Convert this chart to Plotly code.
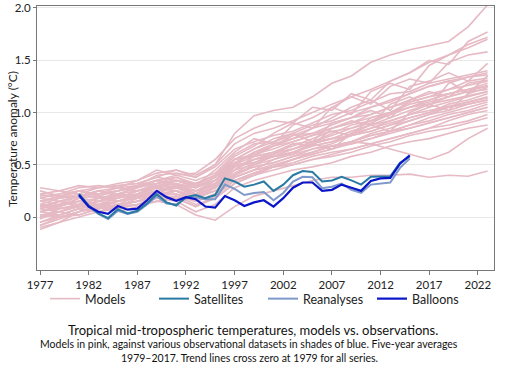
import plotly.graph_objects as go

model_years = [1977, 1979, 1981, 1983, 1985, 1987, 1989, 1991, 1993, 1995, 1997, 1999,
               2001, 2003, 2005, 2007, 2009, 2011, 2013, 2015, 2017, 2019, 2021, 2023]

models = [
    [0.10,0.15,0.20,0.22,0.25,0.30,0.40,0.42,0.38,0.50,0.80,0.97,1.02,1.05,1.15,1.28,1.35,1.48,1.55,1.60,1.64,1.68,1.82,2.03],
    [0.20,0.22,0.28,0.30,0.28,0.35,0.45,0.40,0.42,0.55,0.75,0.85,0.92,0.90,1.05,1.02,1.18,1.12,1.30,1.38,1.50,1.46,1.68,1.77],
    [0.05,0.10,0.18,0.15,0.22,0.28,0.35,0.38,0.30,0.45,0.62,0.75,0.70,0.88,0.95,1.05,0.98,1.20,1.28,1.22,1.45,1.55,1.65,1.72],
    [0.15,0.12,0.20,0.25,0.20,0.30,0.32,0.35,0.32,0.40,0.58,0.68,0.80,0.90,0.85,1.05,1.15,1.08,1.25,1.32,1.28,1.48,1.55,1.58],
    [-0.05,0.02,0.08,0.12,0.10,0.18,0.25,0.28,0.22,0.35,0.50,0.62,0.70,0.75,0.85,0.95,1.05,1.12,1.02,1.25,1.30,1.38,1.30,1.47],
    [0.22,0.25,0.30,0.28,0.32,0.35,0.42,0.45,0.38,0.48,0.65,0.72,0.78,0.82,0.90,0.98,1.02,1.10,1.18,1.20,1.28,1.32,1.36,1.40],
    [0.00,0.05,0.10,0.08,0.15,0.20,0.22,0.30,0.25,0.30,0.48,0.55,0.62,0.70,0.68,0.85,0.92,0.88,1.08,1.15,1.05,1.28,1.34,1.38],
    [0.10,0.08,0.12,0.18,0.20,0.22,0.30,0.32,0.28,0.38,0.55,0.60,0.68,0.78,0.80,0.88,0.95,1.05,1.10,1.18,1.25,1.30,1.18,1.35],
    [-0.10,-0.05,0.05,0.10,0.08,0.12,0.20,0.25,0.18,0.28,0.42,0.52,0.58,0.65,0.72,0.80,0.88,0.92,1.00,1.10,1.15,1.22,1.30,1.33],
    [0.28,0.25,0.22,0.28,0.30,0.32,0.38,0.35,0.30,0.40,0.55,0.65,0.75,0.80,0.72,0.90,0.95,1.02,0.95,1.12,1.20,1.15,1.28,1.31],
    [0.05,0.12,0.15,0.12,0.18,0.25,0.28,0.25,0.20,0.30,0.45,0.58,0.62,0.68,0.75,0.82,0.78,0.95,1.00,1.05,1.12,1.18,1.22,1.28],
    [0.12,0.10,0.18,0.20,0.15,0.22,0.30,0.35,0.30,0.35,0.50,0.52,0.60,0.70,0.72,0.78,0.85,0.90,0.98,1.05,1.08,1.15,1.20,1.26],
    [-0.08,0.00,0.02,0.08,0.12,0.15,0.18,0.20,0.15,0.22,0.38,0.45,0.55,0.60,0.70,0.65,0.80,0.88,0.82,1.00,1.08,1.02,1.18,1.24],
    [0.18,0.15,0.20,0.22,0.25,0.28,0.35,0.30,0.28,0.35,0.52,0.60,0.65,0.72,0.78,0.82,0.85,0.92,0.98,1.05,1.10,1.15,1.20,1.22],
    [0.02,0.05,0.12,0.15,0.12,0.20,0.25,0.28,0.25,0.32,0.45,0.50,0.55,0.62,0.68,0.72,0.80,0.85,0.92,0.98,1.05,1.10,1.15,1.20],
    [0.08,0.15,0.10,0.15,0.20,0.18,0.25,0.30,0.22,0.28,0.40,0.48,0.52,0.58,0.65,0.70,0.78,0.82,0.88,0.95,1.00,1.08,1.12,1.18],
    [-0.12,-0.05,0.00,0.05,0.08,0.12,0.15,0.18,0.10,0.20,0.35,0.42,0.48,0.55,0.62,0.68,0.72,0.80,0.85,0.92,0.98,1.05,1.10,1.15],
    [0.15,0.20,0.18,0.25,0.22,0.28,0.32,0.38,0.32,0.40,0.55,0.58,0.62,0.65,0.70,0.75,0.78,0.85,0.90,0.95,1.00,1.05,1.08,1.12],
    [0.00,0.02,0.08,0.05,0.12,0.15,0.22,0.22,0.18,0.25,0.38,0.45,0.50,0.55,0.60,0.65,0.72,0.78,0.82,0.88,0.95,1.00,1.05,1.10],
    [0.10,0.12,0.15,0.10,0.15,0.20,0.25,0.28,0.20,0.30,0.42,0.48,0.52,0.58,0.62,0.68,0.70,0.75,0.82,0.88,0.92,0.98,1.02,1.08],
    [0.25,0.20,0.25,0.22,0.28,0.30,0.35,0.32,0.25,0.32,0.48,0.52,0.58,0.60,0.65,0.68,0.72,0.78,0.82,0.85,0.90,0.95,1.00,1.05],
    [-0.05,0.00,0.05,0.10,0.05,0.10,0.15,0.20,0.12,0.18,0.32,0.40,0.45,0.50,0.55,0.60,0.65,0.70,0.75,0.80,0.85,0.92,0.98,1.02],
    [0.05,0.08,0.10,0.12,0.15,0.18,0.20,0.22,0.15,0.22,0.35,0.42,0.48,0.52,0.58,0.62,0.65,0.70,0.75,0.80,0.85,0.88,0.92,0.98],
    [0.12,0.10,0.15,0.18,0.18,0.22,0.28,0.25,0.18,0.25,0.38,0.45,0.48,0.50,0.55,0.58,0.62,0.68,0.72,0.78,0.82,0.85,0.90,0.95],
    [-0.02,0.05,0.02,0.08,0.10,0.12,0.18,0.15,0.05,0.12,0.28,0.35,0.40,0.45,0.48,0.52,0.58,0.62,0.68,0.72,0.75,0.80,0.85,0.88],
    [0.08,0.12,0.15,0.12,0.15,0.18,0.22,0.25,0.15,0.22,0.35,0.40,0.48,0.55,0.62,0.68,0.72,0.70,0.65,0.60,0.55,0.62,0.75,0.85],
    [0.05,0.02,0.08,0.05,0.10,0.12,0.15,0.12,0.02,-0.03,0.10,0.20,0.25,0.30,0.35,0.38,0.38,0.40,0.40,0.41,0.38,0.40,0.39,0.44],
    [0.18,0.22,0.25,0.20,0.25,0.30,0.35,0.40,0.35,0.42,0.60,0.70,0.72,0.78,0.85,0.90,0.95,0.98,1.05,1.10,1.15,1.18,1.22,1.25],
    [0.00,0.08,0.12,0.18,0.15,0.20,0.28,0.30,0.22,0.32,0.50,0.58,0.68,0.75,0.80,0.85,0.90,0.98,1.05,1.12,1.18,1.22,1.26,1.30],
    [0.12,0.18,0.22,0.18,0.22,0.25,0.32,0.35,0.28,0.35,0.48,0.55,0.60,0.65,0.72,0.75,0.82,0.88,0.92,0.98,1.02,1.06,1.10,1.14],
    [0.08,0.05,0.10,0.15,0.18,0.25,0.30,0.28,0.25,0.35,0.55,0.65,0.72,0.80,0.88,0.92,1.00,1.05,1.12,1.18,1.25,1.30,1.34,1.36],
    [-0.08,-0.02,0.05,0.08,0.12,0.15,0.22,0.25,0.20,0.25,0.40,0.50,0.58,0.62,0.70,0.75,0.82,0.88,0.95,1.02,1.08,1.12,1.16,1.20],
    [0.15,0.18,0.25,0.28,0.30,0.32,0.38,0.45,0.40,0.50,0.70,0.80,0.85,0.92,1.00,1.08,1.15,1.22,1.30,1.38,1.48,1.55,1.62,1.70],
    [0.22,0.18,0.20,0.25,0.28,0.25,0.30,0.32,0.22,0.28,0.45,0.55,0.58,0.62,0.68,0.72,0.78,0.82,0.88,0.92,0.98,1.02,1.08,1.12],
    [0.02,0.00,0.05,0.12,0.10,0.15,0.20,0.18,0.10,0.18,0.32,0.40,0.48,0.55,0.60,0.65,0.70,0.75,0.80,0.85,0.90,0.95,1.00,1.05],
    [0.10,0.15,0.12,0.18,0.22,0.20,0.28,0.32,0.28,0.38,0.52,0.62,0.68,0.72,0.78,0.85,0.90,0.95,1.00,1.08,1.12,1.18,1.22,1.25],
]

obs_years = list(range(1981, 2016))

satellites = [0.22,0.11,0.035,-0.01,0.075,0.035,0.06,0.13,0.22,0.14,0.11,0.19,0.21,0.18,0.21,0.37,0.34,0.29,0.31,
              0.34,0.25,0.31,0.40,0.44,0.43,0.34,0.35,0.385,0.35,0.31,0.385,0.39,0.39,0.52,0.58]
reanalyses = [0.20,0.10,0.03,-0.02,0.06,0.03,0.05,0.12,0.20,0.13,0.12,0.18,0.19,0.17,0.17,0.31,0.27,0.21,0.23,
              0.24,0.16,0.23,0.34,0.385,0.38,0.275,0.29,0.32,0.26,0.23,0.31,0.32,0.33,0.47,0.56]
balloons = [0.21,0.10,0.05,0.03,0.105,0.07,0.08,0.16,0.25,0.19,0.155,0.19,0.17,0.10,0.09,0.20,0.16,0.105,0.14,
            0.16,0.10,0.18,0.28,0.33,0.33,0.25,0.26,0.31,0.28,0.25,0.345,0.37,0.375,0.51,0.59]

x_ticks = [1977, 1982, 1987, 1992, 1997, 2002, 2007, 2012, 2017, 2022]
y_ticks = [0, 0.5, 1.0, 1.5, 2.0]
y_tick_text = ["0", "0.5", "1.0", "1.5", "2.0"]

FONT = "Lato"
MODEL_C = "#E6BAC4"
SAT_C = "#2A7BA3"
REA_C = "#7E99CA"
BAL_C = "#0A16C8"

fig = go.Figure()
for i, m in enumerate(models):
    fig.add_trace(go.Scatter(x=model_years, y=m, mode="lines",
                             line=dict(color=MODEL_C, width=1.6),
                             name="Models", legendgroup="models",
                             showlegend=(i == 0), legendrank=1, hoverinfo="skip"))

fig.add_trace(go.Scatter(x=obs_years, y=reanalyses, mode="lines", name="Reanalyses",
                         line=dict(color=REA_C, width=2), legendrank=3))
fig.add_trace(go.Scatter(x=obs_years, y=satellites, mode="lines", name="Satellites",
                         line=dict(color=SAT_C, width=2), legendrank=2))
fig.add_trace(go.Scatter(x=obs_years, y=balloons, mode="lines", name="Balloons",
                         line=dict(color=BAL_C, width=2.2), legendrank=4))

L, R, T, B = 37, 12, 6, 109
W, H = 506, 379
pw = W - L - R
ph = H - T - B

def py(px):
    return (H - B - px) / ph

def pxx(px):
    return (px - L) / pw

fig.update_layout(
    width=W, height=H,
    margin=dict(l=L, r=R, t=T, b=B, autoexpand=False),
    paper_bgcolor="white", plot_bgcolor="white",
    font=dict(family=FONT, color="#222222", size=11),
    xaxis=dict(range=[1976.69, 2023.66], tickvals=x_ticks, ticks="outside", ticklen=4,
               tickcolor="#777777", showline=True, linecolor="#777777", linewidth=1,
               mirror=True, showgrid=False, zeroline=False, tickfont=dict(size=11.5),
               automargin=False),
    yaxis=dict(range=[-0.507, 2.019], tickvals=y_ticks, ticktext=y_tick_text,
               ticks="outside", ticklen=3, tickcolor="#777777",
               showline=True, linecolor="#777777", linewidth=1, mirror=True,
               showgrid=True, gridcolor="#E8E8E8", gridwidth=1, zeroline=False,
               tickfont=dict(size=11.5), automargin=False),
    legend=dict(orientation="h", x=pxx(45), xanchor="left",
                y=py(299), yanchor="middle",
                entrywidth=64, entrywidthmode="pixels", font=dict(size=12.5),
                bgcolor="rgba(0,0,0,0)", traceorder="normal"),
    showlegend=True,
    annotations=[
        dict(text="Temperature anomaly (°C)", xref="paper", yref="paper",
             x=pxx(12), y=py(139), textangle=-90, showarrow=False,
             xanchor="center", yanchor="middle", font=dict(size=12)),
        dict(text="Tropical mid-tropospheric temperatures, models vs. observations.",
             xref="paper", yref="paper", x=pxx(253), y=py(330), showarrow=False,
             xanchor="center", yanchor="middle", font=dict(size=13, color="#111111")),
        dict(text="Models in pink, against various observational datasets in shades of blue. Five-year averages",
             xref="paper", yref="paper", x=pxx(249), y=py(344), showarrow=False,
             xanchor="center", yanchor="middle", font=dict(size=10.5, color="#111111")),
        dict(text="1979–2017. Trend lines cross zero at 1979 for all series.",
             xref="paper", yref="paper", x=pxx(249), y=py(358), showarrow=False,
             xanchor="center", yanchor="middle", font=dict(size=10.5, color="#111111")),
    ],
)

fig.write_html("out.html", config={"displayModeBar": False},
               post_script="document.body.style.margin='0px';document.body.style.padding='0px';")
